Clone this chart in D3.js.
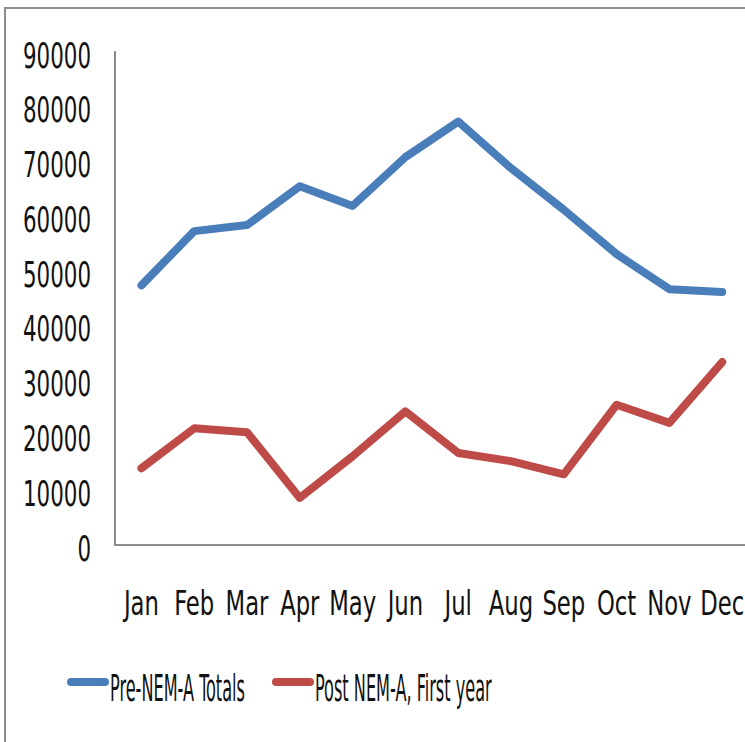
<!DOCTYPE html>
<html>
<head>
<meta charset="utf-8">
<script src="https://cdn.jsdelivr.net/npm/d3@7"></script>
<style>
  html, body { margin: 0; padding: 0; background: #fff; }
  svg { display: block; }
  .lbl { font-family: "Liberation Sans Narrow", "DejaVu Sans Condensed", "Liberation Sans", sans-serif; fill: #111; }
</style>
</head>
<body>
<div id="chart"></div>
<script>
const months = [`Jan`, `Feb`, `Mar`, `Apr`, `May`, `Jun`, `Jul`, `Aug`, `Sep`, `Oct`, `Nov`, `Dec`];
const preNemA = [47400, 57300, 58400, 65500, 61900, 70800, 77300, 68800, 61200, 53100, 46700, 46200];
const postNemA = [14000, 21300, 20600, 8600, 16200, 24400, 16800, 15300, 12900, 25600, 22300, 33400];
const yTicks = [0, 10000, 20000, 30000, 40000, 50000, 60000, 70000, 80000, 90000];
const seriesNames = [`Pre-NEM-A Totals`, `Post NEM-A, First year`];
const colors = [`#4a7ebb`, `#be4b48`];

const W = 745, H = 742;
const plotLeft = 115, plotBottom = 545, plotTop = 52;
const step = 52.8;
const fontSize = 30;

const svg = d3.select(`#chart`).append(`svg`)
    .attr(`width`, W)
    .attr(`height`, H);

// outer frame (only left + top show in the crop)
svg.append(`path`)
    .attr(`d`, `M5,${H} V8 H${W}`)
    .attr(`fill`, `none`)
    .attr(`stroke`, `#8c8c8c`)
    .attr(`stroke-width`, 2);

const x = d3.scalePoint()
    .domain(months)
    .range([plotLeft, plotLeft + step * 12])
    .padding(0.5);

const y = d3.scaleLinear()
    .domain([0, 90000])
    .range([plotBottom, plotTop]);

// width of a string in the fallback font, used to squeeze text to the original's narrow look
const measure = (str) => {
  const t = svg.append(`text`).attr(`class`, `lbl`).attr(`font-size`, fontSize).text(str);
  const w = t.node().getComputedTextLength();
  t.remove();
  return w;
};

const label = (g, tx, ty, str, anchor, sx, sy) => g.append(`text`)
    .attr(`class`, `lbl`)
    .attr(`transform`, `translate(${tx},${ty}) scale(${sx},${sy})`)
    .attr(`text-anchor`, anchor)
    .attr(`font-size`, fontSize)
    .text(str);

const sxTicks = 68 / measure(`90000`);
const sxMonths = 35 / measure(`Jan`);
const sxLegend = 135 / measure(seriesNames[0]);

// axes
const yAxis = svg.append(`g`)
    .attr(`transform`, `translate(${plotLeft},0)`)
    .call(d3.axisLeft(y).tickValues(yTicks).tickSize(0).tickFormat(``));
yAxis.select(`.domain`).attr(`stroke`, `#8c8c8c`).attr(`stroke-width`, 2).attr(`d`, `M0,${plotTop - 1}V${plotBottom}`);

const xAxis = svg.append(`g`)
    .attr(`transform`, `translate(0,${plotBottom})`)
    .call(d3.axisBottom(x).tickSize(0).tickFormat(``));
xAxis.select(`.domain`).attr(`stroke`, `#8c8c8c`).attr(`stroke-width`, 2).attr(`d`, `M${plotLeft - 1},0H${W}`);

const labels = svg.append(`g`);
yTicks.forEach((t) => label(labels, 91, y(t) + 15.5, String(t), `end`, sxTicks, 1.2));
months.forEach((m) => label(labels, x(m), 615, m, `middle`, sxMonths, 1.12));

// lines
const line = d3.line()
    .x((d, i) => x(months[i]))
    .y((d) => y(d));

[preNemA, postNemA].forEach((s, i) => {
  svg.append(`path`)
      .datum(s)
      .attr(`d`, line)
      .attr(`fill`, `none`)
      .attr(`stroke`, colors[i])
      .attr(`stroke-width`, 8)
      .attr(`stroke-linejoin`, `round`)
      .attr(`stroke-linecap`, `round`);
});

// legend
const legendX = [68, 273];
seriesNames.forEach((name, i) => {
  const g = svg.append(`g`);
  g.append(`line`)
      .attr(`x1`, legendX[i] + 3).attr(`x2`, legendX[i] + 37)
      .attr(`y1`, 682).attr(`y2`, 682)
      .attr(`stroke`, colors[i])
      .attr(`stroke-width`, 8)
      .attr(`stroke-linecap`, `round`);
  label(g, legendX[i] + 42, 701, name, `start`, sxLegend, 1.22);
});
</script>
</body>
</html>
